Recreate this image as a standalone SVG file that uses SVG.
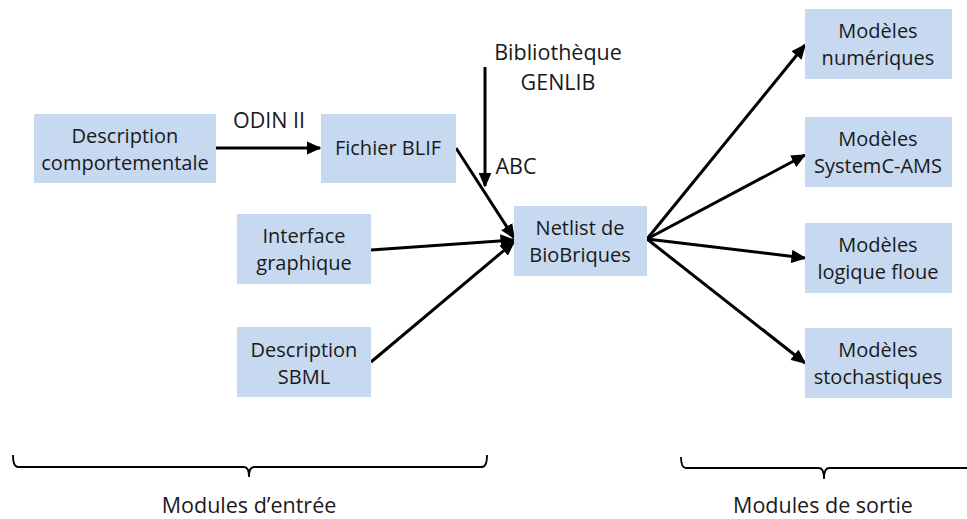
<svg xmlns="http://www.w3.org/2000/svg" width="967" height="519" viewBox="0 0 967 519">
<style>
.box{fill:#c6d9f0;}
.t{font-family:"Open Sans","Liberation Sans",sans-serif;font-size:20px;fill:#1a1a1a;text-anchor:middle;}
.lb{font-family:"Open Sans","Liberation Sans",sans-serif;font-size:21.5px;fill:#1a1a1a;text-anchor:middle;}
.c{stroke:#000;stroke-width:3;fill:none;marker-end:url(#ah);}
.br{stroke:#000;stroke-width:1.8;fill:none;}
</style>
<defs>
<marker id="ah" markerWidth="5" markerHeight="4.4" refX="4.5" refY="2.2" orient="auto" markerUnits="strokeWidth">
<path d="M0,0 L5,2.2 L0,4.4 z" fill="#000"/>
</marker>
</defs>
<g id="connectors">
<line class="c" x1="216" y1="148" x2="320" y2="148"/>
<line class="c" x1="485" y1="67" x2="485" y2="186"/>
<line class="c" x1="456" y1="148" x2="514" y2="238"/>
<line class="c" x1="371" y1="250" x2="514" y2="240"/>
<line class="c" x1="371" y1="362" x2="514" y2="242"/>
<line class="c" x1="647" y1="239" x2="805" y2="45"/>
<line class="c" x1="647" y1="239" x2="805" y2="155"/>
<line class="c" x1="647" y1="239" x2="805" y2="258"/>
<line class="c" x1="647" y1="239" x2="805" y2="363"/>
</g>
<g id="labels">
<text class="lb" x="269" y="128">ODIN II</text>
<text class="lb" x="558" y="60">Bibliothèque</text>
<text class="lb" x="558" y="90">GENLIB</text>
<text class="lb" x="516" y="174">ABC</text>
</g>
<g id="n_desc"><rect class="box" x="34" y="114" width="182" height="69"/><text class="t" x="125" y="143">Description</text><text class="t" x="125" y="170">comportementale</text></g>
<g id="n_blif"><rect class="box" x="321" y="114" width="135" height="69"/><text class="t" x="388" y="155">Fichier BLIF</text></g>
<g id="n_gui"><rect class="box" x="237" y="214" width="134" height="70"/><text class="t" x="304" y="243">Interface</text><text class="t" x="304" y="270">graphique</text></g>
<g id="n_sbml"><rect class="box" x="237" y="327" width="134" height="70"/><text class="t" x="304" y="357">Description</text><text class="t" x="304" y="384">SBML</text></g>
<g id="n_netlist"><rect class="box" x="514" y="206" width="133" height="70"/><text class="t" x="580" y="235">Netlist de</text><text class="t" x="580" y="262">BioBriques</text></g>
<g id="n_num"><rect class="box" x="805" y="9" width="147" height="70"/><text class="t" x="878" y="38">Modèles</text><text class="t" x="878" y="65">numériques</text></g>
<g id="n_sysc"><rect class="box" x="805" y="117" width="147" height="70"/><text class="t" x="878" y="146">Modèles</text><text class="t" x="878" y="173">SystemC-AMS</text></g>
<g id="n_fuzzy"><rect class="box" x="805" y="223" width="147" height="70"/><text class="t" x="878" y="252">Modèles</text><text class="t" x="878" y="279">logique floue</text></g>
<g id="n_stoch"><rect class="box" x="805" y="328" width="147" height="70"/><text class="t" x="878" y="357">Modèles</text><text class="t" x="878" y="384">stochastiques</text></g>
<g id="braces">
<path class="br" d="M13,455 Q13,467 18,467 L244,467 Q249,467 249,477 Q249,467 254,467 L482,467 Q487,467 487,455"/>
<path class="br" d="M681,457 Q681,468 686,468 L819,468 Q824,468 824,479 Q824,468 829,468 L967,468"/>
<text class="lb" x="249" y="513">Modules d’entrée</text>
<text class="lb" x="823" y="513">Modules de sortie</text>
</g>
</svg>
